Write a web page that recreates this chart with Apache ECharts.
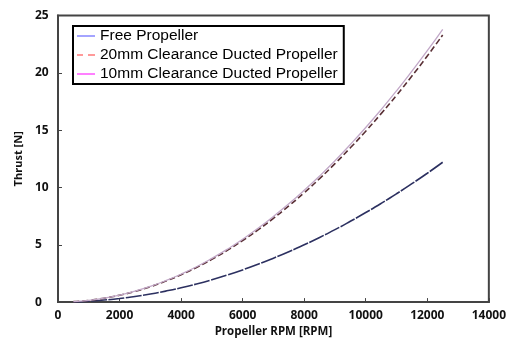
<!DOCTYPE html>
<html><head><meta charset="utf-8">
<script src="https://cdn.jsdelivr.net/npm/echarts@6/dist/echarts.min.js"></script>
<style>html,body{margin:0;padding:0;background:#fff}#c{width:509px;height:343px}</style>
</head><body><div id="c"></div>
<script>
const rpm = [500,1000,1500,2000,2500,3000,3500,4000,4500,5000,5500,6000,6500,7000,7500,8000,8500,9000,9500,10000,10500,11000,11500,12000,12500];
const freeProp = [0.02,0.08,0.18,0.31,0.49,0.70,0.96,1.25,1.58,1.95,2.36,2.81,3.30,3.83,4.39,5.00,5.64,6.32,7.05,7.81,8.61,9.45,10.33,11.24,12.20];
const duct20 = [0.04,0.15,0.34,0.60,0.93,1.34,1.83,2.39,3.02,3.73,4.51,5.37,6.30,7.31,8.39,9.54,10.77,12.08,13.46,14.91,16.44,18.04,19.72,21.47,23.30];
const duct10 = [0.04,0.15,0.34,0.61,0.95,1.37,1.87,2.44,3.08,3.81,4.61,5.48,6.44,7.47,8.57,9.75,11.00,12.33,13.75,15.23,16.79,18.43,20.15,21.93,23.80];
const names = ['Free Propeller','20mm Clearance Ducted Propeller','10mm Clearance Ducted Propeller'];
const pair = (ys) => rpm.map((x,i)=>[x,ys[i]]);
const solidIcon = 'path://M0,0h18v2h-18z';
const dashIcon = 'path://M0,0h6v2h-6zM11,0h7v2h-7z';
const chart = echarts.init(document.getElementById('c'));
const axisFont = {fontFamily:'Open Sans', fontWeight:'bold', fontSize:12, color:'#111'};
chart.setOption({
  animation:false,
  grid:{left:58, right:20, top:15.5, bottom:34.5, show:true, borderColor:'#444', borderWidth:2, containLabel:false},
  legend:{
    data:[
      {name:names[0], icon:solidIcon, itemStyle:{color:'#a4a4ff'}},
      {name:names[1], icon:dashIcon, itemStyle:{color:'#ff9a9a'}},
      {name:names[2], icon:solidIcon, itemStyle:{color:'#ff80ff'}}
    ],
    orient:'vertical', left:73, top:26,
    borderColor:'#000', borderWidth:2, padding:[2,6,2,4], itemGap:3,
    itemWidth:18, itemHeight:16, itemTextGap:7,
    textStyle:{fontFamily:'Liberation Sans', fontSize:15.5, color:'#000'},
    backgroundColor:'#fff'
  },
  xAxis:{type:'value', min:0, max:14000, interval:2000,
    name:'Propeller RPM [RPM]', nameLocation:'middle', nameGap:21,
    nameTextStyle:{fontFamily:'Open Sans', fontWeight:'bold', fontSize:11.5, color:'#111'},
    axisLine:{show:true, lineStyle:{color:'#444', width:2}},
    axisTick:{show:true, inside:true, length:4, lineStyle:{color:'#444'}},
    axisLabel:Object.assign({margin:7, formatter:(v)=>String(v)}, axisFont), splitLine:{show:false}},
  yAxis:{type:'value', min:0, max:25, interval:5,
    name:'Thrust [N]', nameLocation:'middle', nameGap:22, nameRotate:90,
    nameTextStyle:{fontFamily:'Open Sans', fontWeight:'bold', fontSize:11, color:'#111'},
    axisLine:{show:true, lineStyle:{color:'#444', width:2}},
    axisTick:{show:true, inside:true, length:4, lineStyle:{color:'#444'}},
    axisLabel:Object.assign({margin:23, align:'left', padding:[0,0,7,0], formatter:(v)=>String(v)}, axisFont), splitLine:{show:false}},
  series:[
    {name:names[0], type:'line', data:pair(freeProp), symbol:'none', smooth:true,
      lineStyle:{color:'#2c3060', width:1.6, type:[16,1.5]}, itemStyle:{color:'#2c3060'}},
    {name:names[1], type:'line', data:pair(duct20), symbol:'none', smooth:true,
      lineStyle:{color:'#5a3036', width:1.6, type:[6,3]}, itemStyle:{color:'#5a3036'}},
    {name:names[2], type:'line', data:pair(duct10), symbol:'none', smooth:true,
      lineStyle:{color:'#c2a8c8', width:1.3}, itemStyle:{color:'#c2a8c8'}}
  ]
});
</script></body></html>
